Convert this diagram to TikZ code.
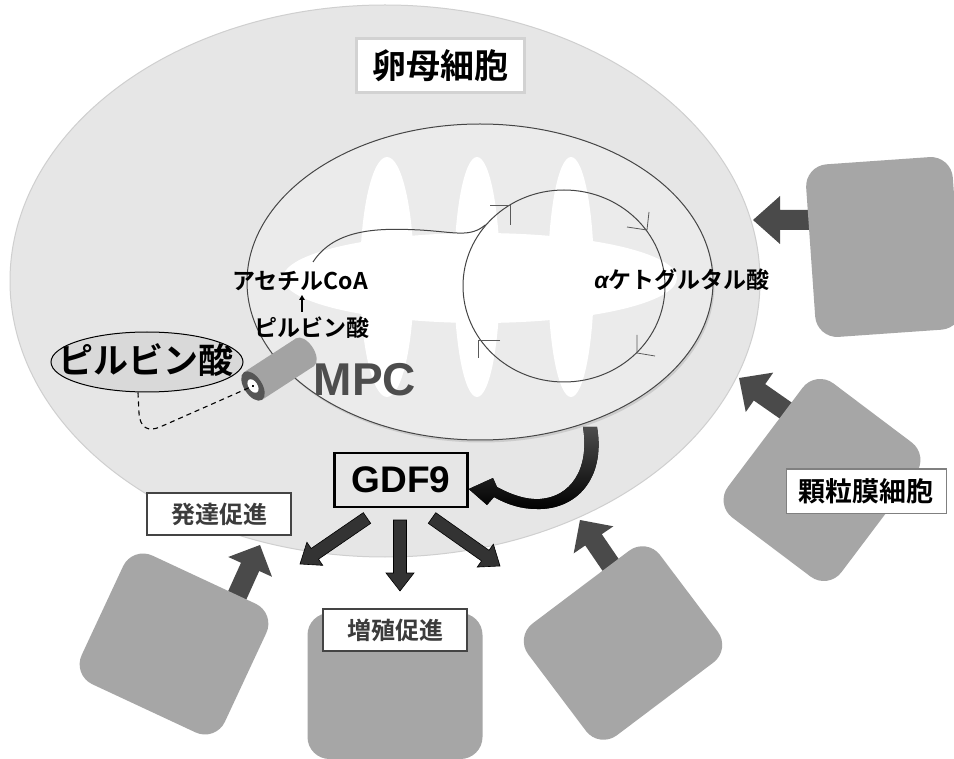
\documentclass[tikz,border=0pt]{standalone}
\usepackage{fontspec}
\usetikzlibrary{shapes.geometric,calc,arrows.meta,shadows}
\newfontfamily\jp{Noto Sans CJK JP}[BoldFont={Noto Sans CJK JP Bold}]
\newfontfamily\lsans{Liberation Sans}

\definecolor{oocfill}{HTML}{E6E6E6}
\definecolor{oocline}{HTML}{CFCFCF}
\definecolor{titleline}{HTML}{D2D2D2}
\definecolor{mitofill}{HTML}{EBEBEB}
\definecolor{mitoline}{HTML}{454545}
\definecolor{chevgray}{HTML}{5A5A5A}
\definecolor{cellgray}{HTML}{A6A6A6}
\definecolor{arrowdark}{HTML}{4A4A4A}
\definecolor{gdfdark}{HTML}{333333}
\definecolor{tagtext}{HTML}{3C3C3C}
\definecolor{tagline}{HTML}{444444}
\definecolor{pyrfill}{HTML}{D9D9D9}
\definecolor{mpcgray}{HTML}{4D4D4D}
\definecolor{capgray}{HTML}{555555}
\definecolor{cylgray}{HTML}{A3A3A3}

% block arrow: #1 style, #2 tail, #3 tip, #4 half shaft, #5 half head, #6 head length
\newcommand\blkarrow[6]{%
  \coordinate (ba-h) at ($(#3)!#6!(#2)$);
  \path[#1] ($(#2)!#4!90:(#3)$) -- ($(ba-h)!#4!90:(#3)$) -- ($(ba-h)!#5!90:(#3)$) -- (#3)
    -- ($(ba-h)!#5!-90:(#3)$) -- ($(ba-h)!#4!-90:(#3)$) -- ($(#2)!#4!-90:(#3)$) -- cycle;
}

\begin{document}
\begin{tikzpicture}[x=1pt,y=-1pt,
  jp/.style={font=\jp\bfseries\fontsize{#1}{#1}\selectfont},
  lat/.style={font=\lsans\bfseries\fontsize{#1}{#1}\selectfont},
  plain/.style={inner sep=0pt},
  cell/.style={fill=cellgray, rounded corners=22pt, inner sep=0pt},
  tag/.style={fill=white, draw=tagline, line width=2pt, inner sep=0pt,
    minimum width=144pt, minimum height=42pt, text=tagtext, jp=24},
  cellarrow/.style={fill=arrowdark},
  gdfarrow/.style={fill=gdfdark, draw=black, line width=0.6pt},
  chev/.style={draw=chevgray, line width=0.8pt},
  membrane/.style={draw=mitoline, line width=1pt},
]
\useasboundingbox (0,0) rectangle (954,759);
\clip (0,0) rectangle (954,759);
\fill[white] (0,0) rectangle (954,759);

% egg cell
\node[ellipse, fill=oocfill, draw=oocline, line width=1pt, minimum width=750pt,
  minimum height=552pt, inner sep=0pt] (oocyte) at (385,281) {};
\node[jp=34, fill=white, draw=titleline, line width=3pt, minimum width=168pt,
  minimum height=54pt, inner sep=0pt] (title) at (440,66) {卵母細胞};

% mitochondrion with cristae
\node[ellipse, fill=mitofill, draw=mitoline, line width=1pt, minimum width=466pt,
  minimum height=316pt, inner sep=0pt,
  drop shadow={shadow xshift=1.5pt, shadow yshift=-2.5pt, opacity=0.25}] (mito) at (480,282) {};
\fill[white] (387,277) ellipse [x radius=27, y radius=120];
\fill[white] (477,277) ellipse [x radius=23, y radius=120];
\fill[white] (571,277) ellipse [x radius=23, y radius=120];
\fill[white] (480,278) ellipse [x radius=197, y radius=45];

% TCA cycle
\node[ellipse, membrane, minimum width=202pt, minimum height=192pt, inner sep=0pt] (tca) at (564,286) {};
\coordinate (acstart) at (313,262);
\draw[membrane] (acstart) .. controls (335,228) and (380,228) .. (420,230)
  .. controls (455,232) and (470,238) .. (tca.142);
\draw[chev] (490,205) -- (510,205) -- (510,225);
\draw[chev] (649,212) -- (647,230) -- (627,227);
\draw[chev] (637,335) -- (637,353) -- (655,356);
\draw[chev] (500,340) -- (478,340) -- (478,358);

% metabolites
\node[plain, jp=23] (acoa) at (300,281) {アセチルCoA};
\node[plain, jp=23] (pyrin) at (312,328) {ピルビン酸};
\coordinate (arrA) at (302,312);
\coordinate (arrB) at (302,295);
\draw[line width=1.3pt, -{Triangle[length=5pt,width=5.5pt]}] (arrA) -- (arrB);
\node[plain, jp=23] (akg) at (682,280) {{\lsans\bfseries\itshape α}ケトグルタル酸};
\node[plain, lat=46, text=mpcgray] (mpc) at (365,380) {MPC};

% pyruvate outside
\node[ellipse, fill=pyrfill, draw=black, line width=1pt, minimum width=192pt,
  minimum height=60pt, inner sep=0pt] (pyr) at (147,362) {};
\node[plain, jp=35] (pyrtxt) at (146,360) {ピルビン酸};

% MPC carrier
\coordinate (mpccap) at (253,386);
\begin{scope}[shift={(253,386)}, rotate=33]
  \fill[cylgray] (0,16.5) -- (62,16.5) -- (62,-16.5) -- (0,-16.5) -- cycle;
  \fill[cylgray] (62,0) ellipse [x radius=9, y radius=16.5];
  \fill[capgray] (0,0) ellipse [x radius=9, y radius=16.5];
  \fill[white] (0,0) ellipse [x radius=4.5, y radius=7.5];
  \fill[black] (0,0) circle (1.2);
\end{scope}
\coordinate (dstart) at ($(pyr.south)+(-9,0)$);
\draw[line width=1.1pt, dash pattern=on 5pt off 4pt] (dstart) -- (139,413)
  .. controls (140,428) and (148,432) .. (160,427) -- (mpccap);

% GDF9
\node[draw=black, line width=2.5pt, minimum width=133pt, minimum height=54pt,
  inner sep=0pt, lat=37] (gdf) at (401,480) {GDF9};
\coordinate (cA) at (583,427);
\coordinate (cB) at (597,427);
\fill[top color=black!70, bottom color=black]
  (cA) .. controls (590,470) and (570,497) .. (540,499)
  .. controls (525,500) and (510,494) .. (497,487)
  -- (493,478) -- (gdf.east |- 0,489) -- (487,505) -- (494,497)
  .. controls (508,505) and (522,509) .. (537,509)
  .. controls (575,510) and (606,480) .. (cB) -- cycle;

\coordinate (g1t) at (367,518); \coordinate (g1h) at (300,564);
\coordinate (g2t) at (400,520); \coordinate (g2h) at (400,591);
\coordinate (g3t) at (432,518); \coordinate (g3h) at (500,566);
\blkarrow{gdfarrow}{g1t}{g1h}{6.5pt}{14pt}{18pt}
\blkarrow{gdfarrow}{g2t}{g2h}{6.5pt}{14pt}{18pt}
\blkarrow{gdfarrow}{g3t}{g3h}{6.5pt}{14pt}{18pt}

% arrows from the surrounding cells
\coordinate (a1t) at (820,220); \coordinate (a1h) at (753,220);
\coordinate (a2t) at (805,424); \coordinate (a2h) at (739,378);
\coordinate (a3t) at (625,586); \coordinate (a3h) at (580,520);
\coordinate (a5t) at (227,618); \coordinate (a5h) at (260,545);
\blkarrow{cellarrow}{a1t}{a1h}{10pt}{24pt}{27pt}
\blkarrow{cellarrow}{a2t}{a2h}{10pt}{24pt}{25pt}
\blkarrow{cellarrow}{a3t}{a3h}{10pt}{24pt}{24pt}
\blkarrow{cellarrow}{a5t}{a5h}{10pt}{24pt}{24pt}

% surrounding cells
\node[cell, minimum width=147pt, minimum height=173pt, rotate=4] (gc1) at (884,247) {};
\node[cell, minimum width=142pt, minimum height=168pt, rotate=-37] (gc2) at (822,480) {};
\node[cell, minimum width=165pt, minimum height=140pt, rotate=37] (gc3) at (623,643) {};
\node[cell, minimum width=175pt, minimum height=146pt] (gc4) at (395,686) {};
\node[cell, minimum width=158pt, minimum height=142pt, rotate=-25] (gc5) at (174,644) {};

% labels
\node[tag] (dev) at (219,514) {発達促進};
\node[tag] (prolif) at (395,630) {増殖促進};
\node[fill=white, draw=black!50, line width=1pt, inner sep=0pt, minimum width=160pt,
  minimum height=44pt, jp=27] (gran) at (866,491) {顆粒膜細胞};
\end{tikzpicture}
\end{document}
